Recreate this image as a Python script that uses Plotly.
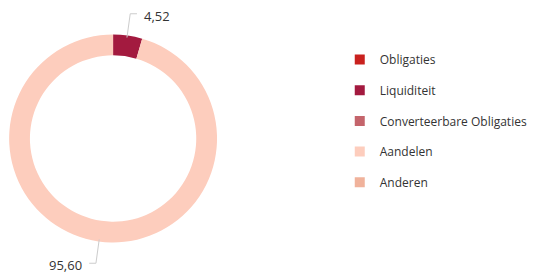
import math
import plotly.graph_objects as go

labels = ["Obligaties", "Liquiditeit", "Converteerbare Obligaties", "Aandelen", "Anderen"]
values = [0.0, 4.52, 0.0, 95.60, 0.0]
colors = ["#c9211e", "#a31a3f", "#c4646b", "#fdcdbd", "#f0b29b"]

W, H = 533, 277
cx, cy, R = 117.5, 138.5, 108.0
hole = 0.8
FONT = "Open Sans"

def px(x):
    return x / W

def py(y):
    return 1 - y / H

fig = go.Figure()
fig.add_trace(go.Pie(
    labels=labels, values=values, marker=dict(colors=colors, line=dict(width=0)),
    hole=hole, sort=False, direction="clockwise", rotation=0,
    textinfo="none", hoverinfo="label+value", showlegend=False,
    domain=dict(x=[px(cx - R), px(cx + R)], y=[py(cy + R), py(cy - R)]),
))

# legend entries
for lab, col in zip(labels, colors):
    fig.add_trace(go.Scatter(x=[None], y=[None], mode="markers", name=lab,
                             legendgroup=lab,
                             marker=dict(symbol="square", size=10, color=col)))

# outside labels with leader lines, positioned from data
total = sum(values)
cum = 0.0
shapes, annotations = [], []
for lab, v in zip(labels, values):
    if v > 0:
        mid = (cum + v / 2) / total * 2 * math.pi
        sx, sy = math.sin(mid), -math.cos(mid)
        x0, y0 = cx + (R - 6) * sx, cy + (R - 6) * sy
        x1, y1 = cx + (R + 18) * sx, cy + (R + 18) * sy
        side = 1 if sx >= 0 else -1
        x2 = x1 + 7 * side
        shapes.append(dict(type="path", xref="paper", yref="paper",
                           path=f"M {px(x0)} {py(y0)} L {px(x1)} {py(y1)} L {px(x2)} {py(y1)}",
                           line=dict(color="#cccccc", width=1)))
        annotations.append(dict(x=px(x2 + 5 * side), y=py(y1 + 2), xref="paper", yref="paper",
                                text=f"{v:.2f}".replace(".", ","), showarrow=False,
                                xanchor="left" if side > 0 else "right", yanchor="middle",
                                font=dict(family=FONT, size=13, color="#333333")))
    cum += v

fig.update_layout(
    width=W, height=H, margin=dict(l=0, r=0, t=0, b=0),
    paper_bgcolor="white", plot_bgcolor="white",
    xaxis=dict(visible=False), yaxis=dict(visible=False),
    shapes=shapes, annotations=annotations,
    legend=dict(x=px(353), y=py(45), xanchor="left", yanchor="top",
                font=dict(family=FONT, size=12, color="#333333"),
                tracegroupgap=11.7, itemwidth=30, bgcolor="rgba(0,0,0,0)"),
)
fig.write_html("out.html", config={"displayModeBar": False},
               post_script="document.body.style.margin='0';")
